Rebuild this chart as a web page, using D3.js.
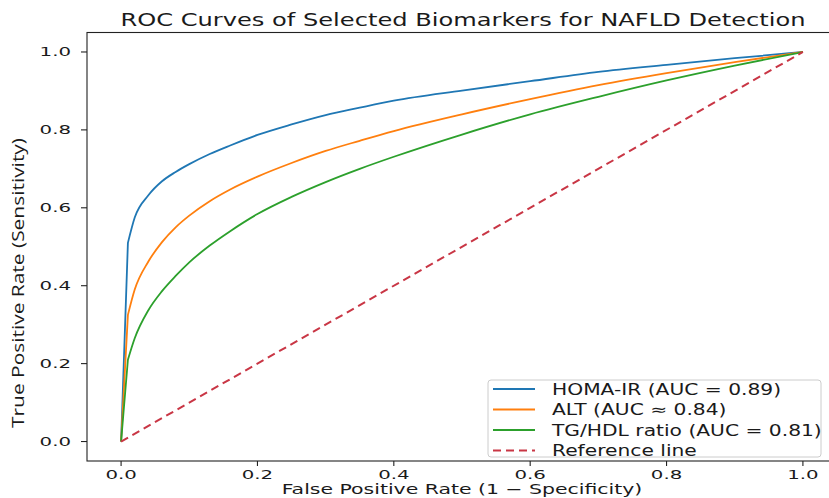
<!DOCTYPE html>
<html>
<head>
<meta charset="utf-8">
<script src="https://cdn.jsdelivr.net/npm/d3@7"></script>
<style>
  body { margin: 0; background: #fff; }
  svg { display: block; }
</style>
</head>
<body>
<div class="chart"></div>
<script>
// values
var fpr     = [0, 0.01, 0.02, 0.04, 0.06, 0.08, 0.10, 0.13, 0.16, 0.20, 0.25, 0.30, 0.35, 0.40, 0.50, 0.60, 0.70, 0.80, 0.90, 1.0];
var homaTpr = [0, 0.51, 0.575, 0.632, 0.668, 0.692, 0.712, 0.738, 0.760, 0.787, 0.814, 0.838, 0.857, 0.875, 0.901, 0.925, 0.949, 0.967, 0.984, 1.0];
var altTpr  = [0, 0.325, 0.39, 0.462, 0.512, 0.550, 0.580, 0.617, 0.647, 0.680, 0.715, 0.746, 0.772, 0.797, 0.840, 0.879, 0.915, 0.946, 0.974, 1.0];
var tgTpr   = [0, 0.21, 0.265, 0.337, 0.386, 0.425, 0.460, 0.503, 0.540, 0.584, 0.628, 0.666, 0.700, 0.731, 0.788, 0.840, 0.885, 0.927, 0.965, 1.0];
var refFpr  = [0, 1];
var refTpr  = [0, 1];

var seriesNames  = ["HOMA-IR (AUC = 0.89)", "ALT (AUC \u2248 0.84)", "TG/HDL ratio (AUC = 0.81)", "Reference line"];
var seriesColors = ["#1f77b4", "#ff7f0e", "#2ca02c", "#c93645"];
var xTicks = [0, 0.2, 0.4, 0.6, 0.8, 1.0];
var yTicks = [0, 0.2, 0.4, 0.6, 0.8, 1.0];

var W = 829, H = 498;
var font = "'DejaVu Sans', sans-serif";

var svg = d3.select(".chart")
  .append("svg")
  .attr("width", W)
  .attr("height", H);

var x = d3.scaleLinear().domain([-0.05, 1.05]).range([87, 837]);
var y = d3.scaleLinear().domain([-0.05, 1.05]).range([461, 32.5]);

// the picture is stretched sideways, so text gets a horizontal scale too
var stext = function(g, tx, ty, str, size, anchor, k) {
  return g.append("text")
    .attr("transform", "translate(" + tx + "," + ty + ") scale(" + k + ",1)")
    .attr("text-anchor", anchor)
    .style("font-family", font)
    .style("font-size", size + "px")
    .style("fill", "#1a1a1a")
    .text(str);
};

// curves: straight jump from the origin, smooth after the first step
var smooth = d3.line()
  .x(function(d) { return x(d[0]); })
  .y(function(d) { return y(d[1]); })
  .curve(d3.curveMonotoneX);

var rocPath = function(pts) {
  var p0 = pts[0];
  return "M" + x(p0[0]) + "," + y(p0[1]) + "L" + smooth(pts.slice(1)).slice(1);
};

var curves = [
  d3.zip(fpr, homaTpr),
  d3.zip(fpr, altTpr),
  d3.zip(fpr, tgTpr)
];

curves.forEach(function(pts, i) {
  svg.append("path")
    .attr("d", rocPath(pts))
    .attr("fill", "none")
    .attr("stroke", seriesColors[i])
    .attr("stroke-width", 1.8)
    .attr("stroke-linejoin", "round");
});

svg.append("path")
  .attr("d", d3.line().x(function(d) { return x(d[0]); }).y(function(d) { return y(d[1]); })(d3.zip(refFpr, refTpr)))
  .attr("fill", "none")
  .attr("stroke", seriesColors[3])
  .attr("stroke-width", 2)
  .attr("stroke-dasharray", "8,5");

// frame
svg.append("rect")
  .attr("x", 87).attr("y", 32.5)
  .attr("width", 750).attr("height", 428.5)
  .attr("fill", "none")
  .attr("stroke", "#222")
  .attr("stroke-width", 1.1);

// x ticks
var gx = svg.append("g");
xTicks.forEach(function(t) {
  gx.append("line")
    .attr("x1", x(t)).attr("x2", x(t))
    .attr("y1", 461).attr("y2", 466)
    .attr("stroke", "#222").attr("stroke-width", 1.1);
  stext(gx, x(t), 479, d3.format(".1f")(t), 12.5, "middle", 1.58);
});

// y ticks
var gy = svg.append("g");
yTicks.forEach(function(t) {
  gy.append("line")
    .attr("x1", 81).attr("x2", 87)
    .attr("y1", y(t)).attr("y2", y(t))
    .attr("stroke", "#222").attr("stroke-width", 1.1);
  stext(gy, 71, y(t) + 4.5, d3.format(".1f")(t), 12.5, "end", 1.58);
});

// title and axis labels
stext(svg, 463, 26, "ROC Curves of Selected Biomarkers for NAFLD Detection", 17, "middle", 1.42);
stext(svg, 462, 494, "False Positive Rate (1 \u2212 Specificity)", 14, "middle", 1.46);

svg.append("text")
  .attr("transform", "translate(24,283) scale(1.2,1) rotate(-90)")
  .attr("text-anchor", "middle")
  .attr("textLength", 290)
  .attr("lengthAdjust", "spacingAndGlyphs")
  .style("font-family", "'Open Sans', 'Noto Sans', sans-serif")
  .style("font-size", "14px")
  .style("fill", "#1a1a1a")
  .text("True Positive Rate (Sensitivity)");

// legend
var lg = svg.append("g");
lg.append("rect")
  .attr("x", 488).attr("y", 380)
  .attr("width", 333).attr("height", 77)
  .attr("rx", 3)
  .attr("fill", "#fff").attr("fill-opacity", 0.8)
  .attr("stroke", "#ccc");

seriesNames.forEach(function(name, i) {
  var ry = 389 + i * 20.5;
  lg.append("line")
    .attr("x1", 493).attr("x2", 535)
    .attr("y1", ry).attr("y2", ry)
    .attr("stroke", seriesColors[i])
    .attr("stroke-width", 1.8)
    .attr("stroke-dasharray", i == 3 ? "8,5" : null);
  stext(lg, 552, ry + 5.5, name, 15, "start", 1.35);
});
</script>
</body>
</html>
